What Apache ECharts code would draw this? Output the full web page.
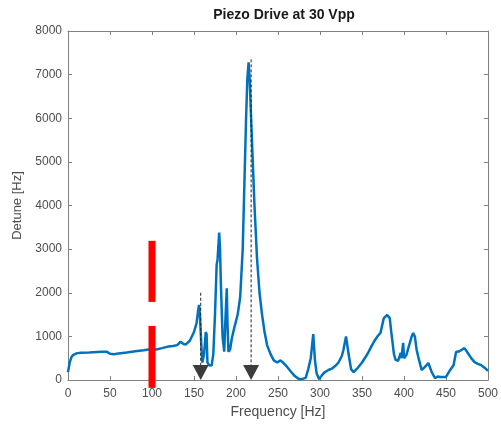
<!DOCTYPE html>
<html>
<head>
<meta charset="utf-8">
<script src="https://cdn.jsdelivr.net/npm/echarts@6/dist/echarts.min.js"></script>
<style>
html,body{margin:0;padding:0;background:#fff;}
#chart{width:501px;height:424px;}
</style>
</head>
<body>
<div id="chart"></div>
<script>
// Frequency [Hz] and detune [Hz]
var freq = [0,2,4,6,10,15,25,40,46,48,50,52,55,60,70,80,90,96,100,105,112,120,125,130,134,137,140,145,150,153,155,156,157,159,160,162,164,165,166,168,171,173,175,177,178,180,181,182,184,186,187,189,190,191,193,195,198,202,205,208,210,212,213.5,215,216.5,218,220,222,225,228,231,234,237,241,245,249,251,253,256,260,265,270,275,280,283,286,289,292,294,296,299,302,305,310,314,318,322,326,328,331,334,337,340,345,350,355,358,362,365,368,372,376,380,383,385,388,390,393,396,397,399,400,403,405,409,411,413,415,417,421,425,429,433,437,440,443,450,455,459,462,466,468,472,476,480,484,488,492,496,500];
var detune = [180,400,520,570,610,625,630,645,650,620,600,580,590,610,630,660,680,700,700,700,730,770,780,800,880,830,810,900,1100,1300,1600,1720,1500,700,400,600,1100,1050,400,340,330,600,1500,2650,2750,3380,3000,2200,1000,650,1200,2100,1200,650,700,950,1200,1500,1900,3000,4500,6000,6900,7280,6800,6000,5000,4000,2800,2000,1500,1100,800,600,450,400,380,450,400,320,200,90,20,30,50,250,500,1050,450,150,20,100,170,230,260,320,400,550,700,1000,600,250,180,280,400,550,650,800,900,990,1080,1420,1490,1420,1080,600,460,440,620,500,850,500,580,620,990,1080,990,700,530,230,300,390,180,40,80,70,70,230,340,640,660,670,730,620,500,410,370,340,280,210];

// Annotations
var redBarFreq = [100, 100];
var redBarLow = [1790, -180];
var redBarHigh = [3190, 1240];
var markerFreq = [158, 218];
var markerTop = [2000, 7350];

var xTicks = [0,50,100,150,200,250,300,350,400,450,500];
var yTicks = [0,1000,2000,3000,4000,5000,6000,7000,8000];

var lineData = freq.map(function(f, i){ return [f, detune[i]]; });
var barData = redBarFreq.map(function(f, i){ return [f, redBarLow[i], redBarHigh[i]]; });
var markerData = markerFreq.map(function(f, i){ return [f, markerTop[i]]; });

var chart = echarts.init(document.getElementById('chart'), null, {renderer:'canvas'});
var axisColor = '#808080';
var labelColor = '#4d4d4d';
var font = 'Liberation Sans, Arial, sans-serif';

chart.setOption({
  animation: false,
  backgroundColor: '#ffffff',
  title: {
    text: 'Piezo Drive at 30 Vpp',
    left: 279, top: 3, textAlign: 'center',
    textStyle: {fontFamily: font, fontSize: 14, fontWeight: 'bold', color: '#1a1a1a'}
  },
  grid: {left: 68, right: 11, top: 31, bottom: 44, containLabel: false},
  xAxis: [{
    type: 'value', min: xTicks[0], max: xTicks[xTicks.length-1], interval: 50,
    name: 'Frequency [Hz]', nameLocation: 'middle', nameGap: 25,
    nameTextStyle: {fontFamily: font, fontSize: 14, color: labelColor},
    axisLine: {show: true, lineStyle: {color: axisColor, width: 1}},
    axisTick: {show: true, inside: true, length: 4, lineStyle: {color: axisColor}},
    axisLabel: {fontFamily: font, fontSize: 12, color: labelColor, margin: 8,
                formatter: function(v){ return String(v); }},
    splitLine: {show: false}
  },{
    type: 'value', position: 'top', min: 0, max: 500, interval: 50,
    axisLine: {show: true, onZero: false, lineStyle: {color: axisColor, width: 1}},
    axisTick: {show: true, inside: true, length: 4, lineStyle: {color: axisColor}},
    axisLabel: {show: false}, splitLine: {show: false}
  }],
  yAxis: [{
    type: 'value', min: yTicks[0], max: yTicks[yTicks.length-1], interval: 1000,
    name: 'Detune [Hz]', nameLocation: 'middle', nameGap: 36,
    nameTextStyle: {fontFamily: font, fontSize: 13, color: labelColor},
    axisLine: {show: true, lineStyle: {color: axisColor, width: 1}},
    axisTick: {show: true, inside: true, length: 4, lineStyle: {color: axisColor}},
    axisLabel: {fontFamily: font, fontSize: 12, color: labelColor, margin: 6,
                formatter: function(v){ return String(v); }},
    splitLine: {show: false}
  },{
    type: 'value', position: 'right', min: 0, max: 8000, interval: 1000,
    axisLine: {show: true, onZero: false, lineStyle: {color: axisColor, width: 1}},
    axisTick: {show: true, inside: true, length: 4, lineStyle: {color: axisColor}},
    axisLabel: {show: false}, splitLine: {show: false}
  }],
  series: [{
    type: 'line', data: lineData, showSymbol: false, smooth: false,
    lineStyle: {color: '#0072BD', width: 2.5}, z: 2
  },{
    type: 'custom', data: markerData, clip: false, z: 5,
    renderItem: function(params, api){
      var f = api.value(0);
      var top = api.coord([f, api.value(1)]);
      var base = api.coord([f, 0]);
      var w = 16, h = 15;
      return {type: 'group', children: [
        {type: 'line', shape: {x1: top[0], y1: top[1], x2: base[0], y2: base[1]-h+2},
         style: {stroke: '#222', lineWidth: 1, lineDash: [3, 2]}},
        {type: 'polygon', shape: {points: [[base[0]-w/2, base[1]-h], [base[0]+w/2, base[1]-h], [base[0], base[1]]]},
         style: {fill: '#3c3c3c'}}
      ]};
    }
  },{
    type: 'custom', data: barData, clip: false, z: 6,
    renderItem: function(params, api){
      var lo = api.coord([api.value(0), api.value(1)]);
      var hi = api.coord([api.value(0), api.value(2)]);
      var w = 7;
      return {type: 'rect', shape: {x: lo[0]-w/2, y: hi[1], width: w, height: lo[1]-hi[1]},
              style: {fill: '#ff0000'}};
    }
  }]
});
</script>
</body>
</html>
